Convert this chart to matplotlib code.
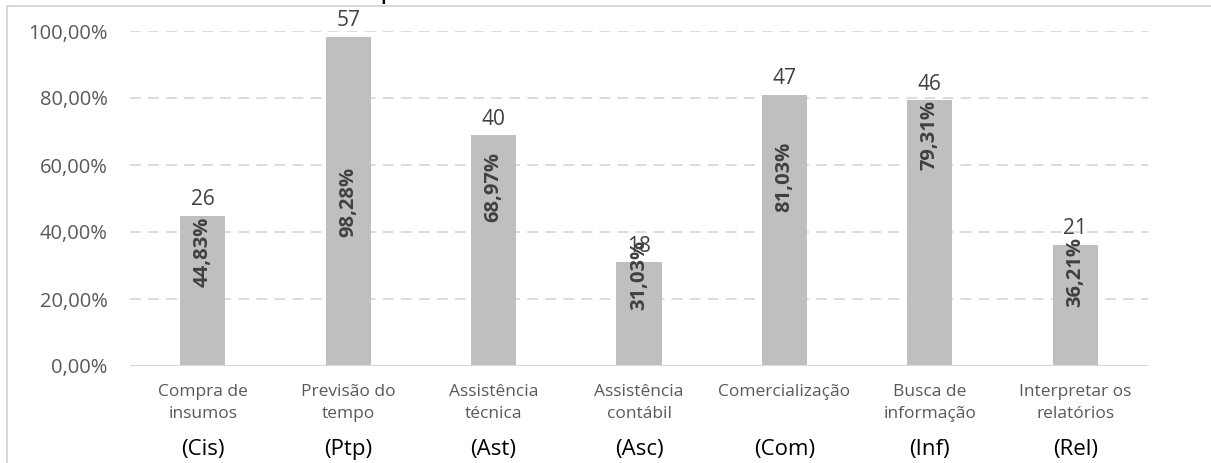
import matplotlib.pyplot as plt
from matplotlib.patches import Rectangle

plt.rcParams['font.family'] = ['Open Sans', 'DejaVu Sans']

categories = ['Compra de\ninsumos', 'Previsão do\ntempo', 'Assistência\ntécnica',
              'Assistência\ncontábil', 'Comercialização', 'Busca de\ninformação',
              'Interpretar os\nrelatórios']
codes = ['(Cis)', '(Ptp)', '(Ast)', '(Asc)', '(Com)', '(Inf)', '(Rel)']
counts = [26, 57, 40, 18, 47, 46, 21]
percents = [44.83, 98.28, 68.97, 31.03, 81.03, 79.31, 36.21]
yticks = [0, 20, 40, 60, 80, 100]

# where the top of each rotated percent label sits (in % units)
pct_label_top = [44.5, 59.4, 63.9, 37.6, 66.9, 79.4, 38.5]


def pt(v):
    return f'{v:.2f}%'.replace('.', ',')


W, H = 1211, 463
fig = plt.figure(figsize=(W / 100, H / 100), dpi=100)
ax = fig.add_axes([130 / W, 1 - 366 / H, (1148 - 130) / W, (366 - 31) / H])

x = list(range(len(categories)))
ax.bar(x, percents, width=0.31, color='#bfbfbf', zorder=2)

ax.set_xlim(-0.5, len(categories) - 0.5)
ax.set_ylim(0, 100)
ax.set_yticks(yticks)
ax.set_yticklabels([pt(v) for v in yticks], color='#595959', fontsize=14.5)
ax.set_xticks(x)
ax.set_xticklabels(categories, color='#595959', fontsize=12.5, linespacing=1.5)
ax.tick_params(axis='both', length=0)
ax.tick_params(axis='y', pad=16)
ax.tick_params(axis='x', pad=13)

for v in yticks[1:]:
    ax.axhline(v, color='#d9d9d9', lw=1.3, ls=(0, (6, 4)), zorder=1)
ax.axhline(0, color='#d9d9d9', lw=1.5, zorder=3)
for s in ax.spines.values():
    s.set_visible(False)

for xi, c, p, top in zip(x, counts, percents, pct_label_top):
    ax.annotate(str(c), (xi, p), xytext=(0, 7.5), textcoords='offset points',
                ha='center', va='baseline', fontsize=15, color='#404040', zorder=4)
    ax.text(xi, top, pt(p), rotation=90, ha='center', va='top',
            fontsize=14.5, fontweight='bold', color='#404040', zorder=4)

# short codes under the category names
code_y = -(450 - 366) / (366 - 31)
for xi, code in zip(x, codes):
    ax.text(xi, code_y, code, transform=ax.get_xaxis_transform(), ha='center',
            va='center', fontsize=16, color='black')

# outer chart frame
fig.patches.append(Rectangle((7 / W, -0.5), 2, 0.5 + 1 - 6 / H, transform=fig.transFigure,
                             fill=False, ec='#d9d9d9', lw=1.5))

fig.text(10 / W, 1 + 3 / H, 'Gráfico 4 – Uso da internet por finalidade',
         ha='left', va='baseline', fontsize=21, color='black')

fig.savefig('out.png', dpi=100)
